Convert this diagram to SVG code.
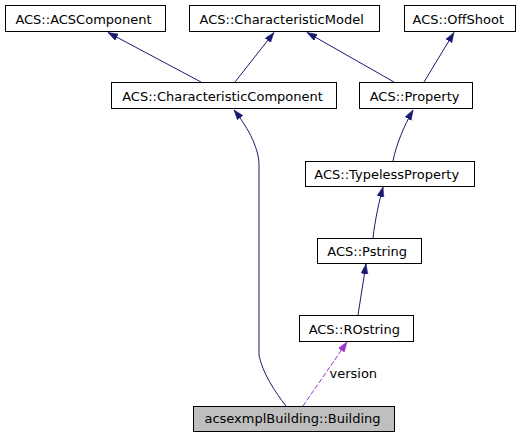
<svg xmlns="http://www.w3.org/2000/svg" width="523" height="437" viewBox="0 0 523 437">
<style>
.box{fill:#ffffff;stroke:#000000;stroke-width:1}
.cur{fill:#bfbfbf;stroke:#000000;stroke-width:1}
.lbl{font-family:"DejaVu Sans",sans-serif;font-size:13px;fill:#000000;text-anchor:middle}
.elbl{font-family:"DejaVu Sans",sans-serif;font-size:13px;fill:#000000}
.inh{fill:none;stroke:#191970;stroke-width:1;marker-end:url(#navy)}
.use{fill:none;stroke:#9a32cd;stroke-width:1;stroke-dasharray:5,2;marker-end:url(#purple)}
</style>
<defs>
<marker id="navy" markerUnits="userSpaceOnUse" markerWidth="11" markerHeight="8" refX="10" refY="3.5" orient="auto">
<path d="M0,0 L10,3.5 L0,7 z" fill="#191970" stroke="#191970" stroke-width="0.5"/>
</marker>
<marker id="purple" markerUnits="userSpaceOnUse" markerWidth="11" markerHeight="8" refX="10" refY="3.5" orient="auto">
<path d="M0,0 L10,3.5 L0,7 z" fill="#9a32cd" stroke="#9a32cd" stroke-width="0.5"/>
</marker>
</defs>
<rect width="523" height="437" fill="#ffffff"/>
<g id="connectors">
<path class="inh" d="M201,82 L108,32.5"/>
<path class="inh" d="M235,82 L274,32.5"/>
<path class="inh" d="M394,82 L307,32.5"/>
<path class="inh" d="M424,82 L454,32.5"/>
<path class="inh" d="M286,406 C275,392 262,372 259,355 L259,165 C259,150 250,130 234,110"/>
<path class="inh" d="M393,161 C396,145 404,126 413,110"/>
<path class="inh" d="M373,238 C375,220 379,202 383,187"/>
<path class="inh" d="M358,315 L366,264"/>
<path class="use" d="M303,406 L347,342"/>
<text class="elbl" x="329.5" y="377.5">version</text>
</g>
<g id="ACSComponent">
<rect class="box" x="5.5" y="5.5" width="160" height="26"/>
<text class="lbl" x="83.5" y="23.5">ACS::ACSComponent</text>
</g>
<g id="CharacteristicModel">
<rect class="box" x="189.5" y="5.5" width="190" height="26"/>
<text class="lbl" x="281.7" y="23.5">ACS::CharacteristicModel</text>
</g>
<g id="OffShoot">
<rect class="box" x="404.5" y="5.5" width="111" height="26"/>
<text class="lbl" x="458.3" y="23.5">ACS::OffShoot</text>
</g>
<g id="CharacteristicComponent">
<rect class="box" x="111.5" y="82.5" width="225" height="26"/>
<text class="lbl" x="222.5" y="101.3">ACS::CharacteristicComponent</text>
</g>
<g id="Property">
<rect class="box" x="359.5" y="82.5" width="113" height="26"/>
<text class="lbl" x="414.6" y="101.3">ACS::Property</text>
</g>
<g id="TypelessProperty">
<rect class="box" x="305.5" y="161.5" width="169" height="25"/>
<text class="lbl" x="386.7" y="179.3">ACS::TypelessProperty</text>
</g>
<g id="Pstring">
<rect class="box" x="317.5" y="238.5" width="104" height="25"/>
<text class="lbl" x="367.2" y="255.5">ACS::Pstring</text>
</g>
<g id="ROstring">
<rect class="box" x="299.5" y="315.5" width="114" height="26"/>
<text class="lbl" x="354.3" y="334.3">ACS::ROstring</text>
</g>
<g id="Building">
<rect class="cur" x="193.5" y="406.5" width="201" height="25"/>
<text class="lbl" x="292.5" y="423.3">acsexmplBuilding::Building</text>
</g>
</svg>
